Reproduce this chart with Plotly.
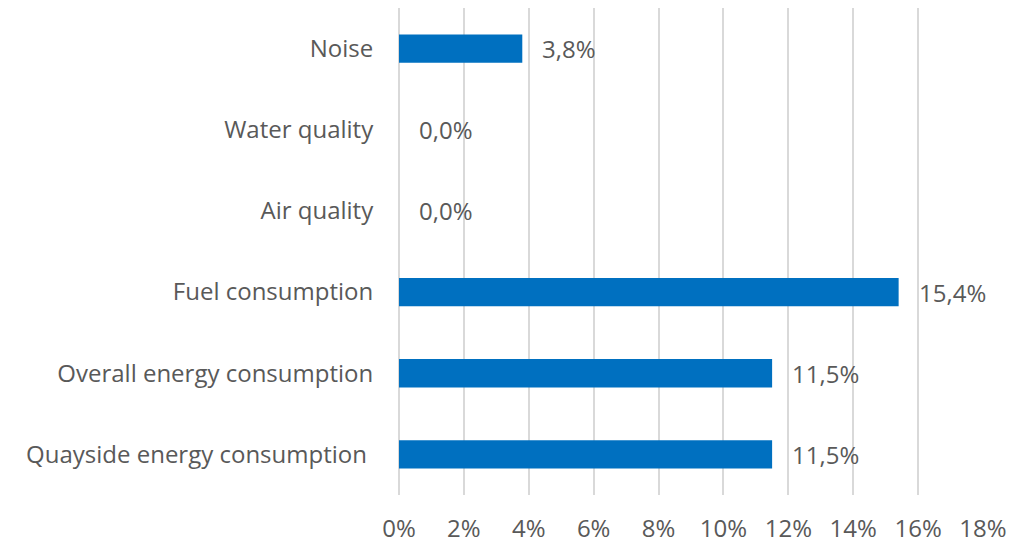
import plotly.graph_objects as go

categories = ["Noise", "Water quality", "Air quality", "Fuel consumption",
              "Overall energy consumption", "Quayside energy consumption\u00a0"]
values = [3.8, 0.0, 0.0, 15.4, 11.5, 11.5]
tick_vals = [0, 2, 4, 6, 8, 10, 12, 14, 16, 18]
tick_text = [f"{v}%" for v in tick_vals]
labels = [f"{v:.1f}".replace(".", ",") + "%" for v in values]

FONT = "Open Sans"
GREY = "#595959"

fig = go.Figure(go.Bar(
    x=values, y=categories, orientation="h",
    marker=dict(color="#0070C0", line=dict(width=0)),
    hoverinfo="skip",
))

for c, v, t in zip(categories, values, labels):
    fig.add_annotation(x=v, y=c, text=t, showarrow=False, xanchor="left",
                       xshift=18, font=dict(family=FONT, size=24, color=GREY))

fig.update_layout(
    width=1031, height=545,
    margin=dict(l=399, r=48, t=8, b=50),
    paper_bgcolor="white", plot_bgcolor="white",
    bargap=0.65, showlegend=False,
    font=dict(family=FONT, size=24, color=GREY),
)
fig.update_xaxes(range=[0, 18], tickvals=tick_vals, ticktext=tick_text,
                 showgrid=True, gridcolor="#D9D9D9", gridwidth=1.5,
                 zeroline=True, zerolinecolor="#D9D9D9", zerolinewidth=1.5,
                 showline=False, automargin=False,
                 ticks="outside", ticklen=12, tickcolor="rgba(0,0,0,0)",
                 tickfont=dict(family=FONT, size=24, color=GREY))
fig.update_yaxes(autorange="reversed", showgrid=False, zeroline=False,
                 showline=False, automargin=False, ticks="outside", ticklen=20,
                 tickcolor="rgba(0,0,0,0)",
                 tickfont=dict(family=FONT, size=24, color=GREY))

fig.write_html("out.html")
